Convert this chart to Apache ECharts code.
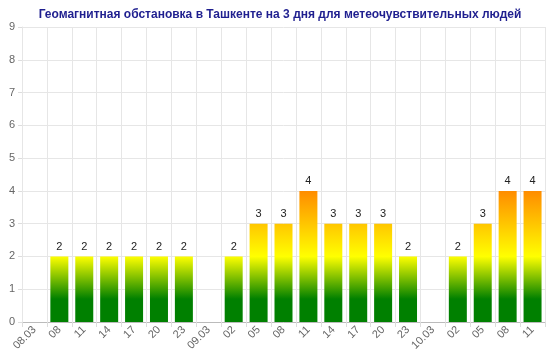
<!DOCTYPE html>
<html>
<head>
<meta charset="utf-8">
<script src="https://cdn.jsdelivr.net/npm/echarts@6/dist/echarts.min.js"></script>
<style>
html,body{margin:0;padding:0;background:#fff;}
#chart{width:560px;height:354px;}
</style>
</head>
<body>
<div id="chart"></div>
<script>
var titleText = "Геомагнитная обстановка в Ташкенте на 3 дня для метеочувствительных людей";
var categories = ["08.03","08","11","14","17","20","23","09.03","02","05","08","11","14","17","20","23","10.03","02","05","08","11"];
var kpValues = [0,2,2,2,2,2,2,0,2,3,3,4,3,3,3,2,0,2,3,4,4];
var yTicks = [0,1,2,3,4,5,6,7,8,9];

// colour by absolute level: green low, yellow at 2, orange at 4
var levelStops = [[0,[0,128,0]],[0.7,[0,128,0]],[2,[255,255,0]],[4,[255,140,0]]];

function colorAt(h){
    for (var i = 1; i < levelStops.length; i++) {
        if (h <= levelStops[i][0]) {
            var a = levelStops[i-1], b = levelStops[i];
            var t = (h - a[0]) / (b[0] - a[0]);
            var c = a[1].map(function(v, k){ return Math.round(v + (b[1][k] - v) * t); });
            return "rgb(" + c.join(",") + ")";
        }
    }
    var last = levelStops[levelStops.length-1][1];
    return "rgb(" + last.join(",") + ")";
}

function barGradient(v){
    var stops = [{offset: 0, color: colorAt(v)}];
    for (var i = levelStops.length - 1; i >= 0; i--) {
        var h = levelStops[i][0];
        if (h < v) {
            stops.push({offset: 1 - h / v, color: colorAt(h)});
        }
    }
    return new echarts.graphic.LinearGradient(0, 0, 0, 1, stops);
}

var chart = echarts.init(document.getElementById("chart"));
chart.setOption({
    animation: false,
    title: {
        text: titleText,
        left: "center",
        top: 4,
        textStyle: {color: "#1f1f8f", fontSize: 12, fontWeight: "bold", fontFamily: "Liberation Sans"}
    },
    grid: {left: 22, right: 15, top: 27, bottom: 32},
    xAxis: {
        type: "category",
        data: categories,
        axisLine: {lineStyle: {color: "#bbb"}},
        axisTick: {show: true, length: 5, lineStyle: {color: "#ddd"}},
        axisLabel: {rotate: 45, color: "#666", fontSize: 11, fontFamily: "Liberation Sans", interval: 0, margin: 6},
        splitLine: {show: true, lineStyle: {color: "#e6e6e6"}}
    },
    yAxis: {
        type: "value",
        min: yTicks[0],
        max: yTicks[yTicks.length - 1],
        interval: 1,
        axisLine: {show: true, lineStyle: {color: "#e6e6e6"}},
        axisTick: {show: true, length: 4, lineStyle: {color: "#ddd"}},
        axisLabel: {color: "#666", fontSize: 11, fontFamily: "Liberation Sans", margin: 7},
        splitLine: {lineStyle: {color: "#e6e6e6"}}
    },
    series: [{
        type: "bar",
        barWidth: 18,
        data: kpValues.map(function(v){
            return {value: v, itemStyle: {color: v > 0 ? barGradient(v) : "transparent"}};
        }),
        label: {
            show: true,
            position: "top",
            distance: 4,
            color: "#222",
            fontSize: 11,
            fontFamily: "Liberation Sans",
            formatter: function(p){ return p.value > 0 ? p.value : ""; }
        }
    }]
});
</script>
</body>
</html>
